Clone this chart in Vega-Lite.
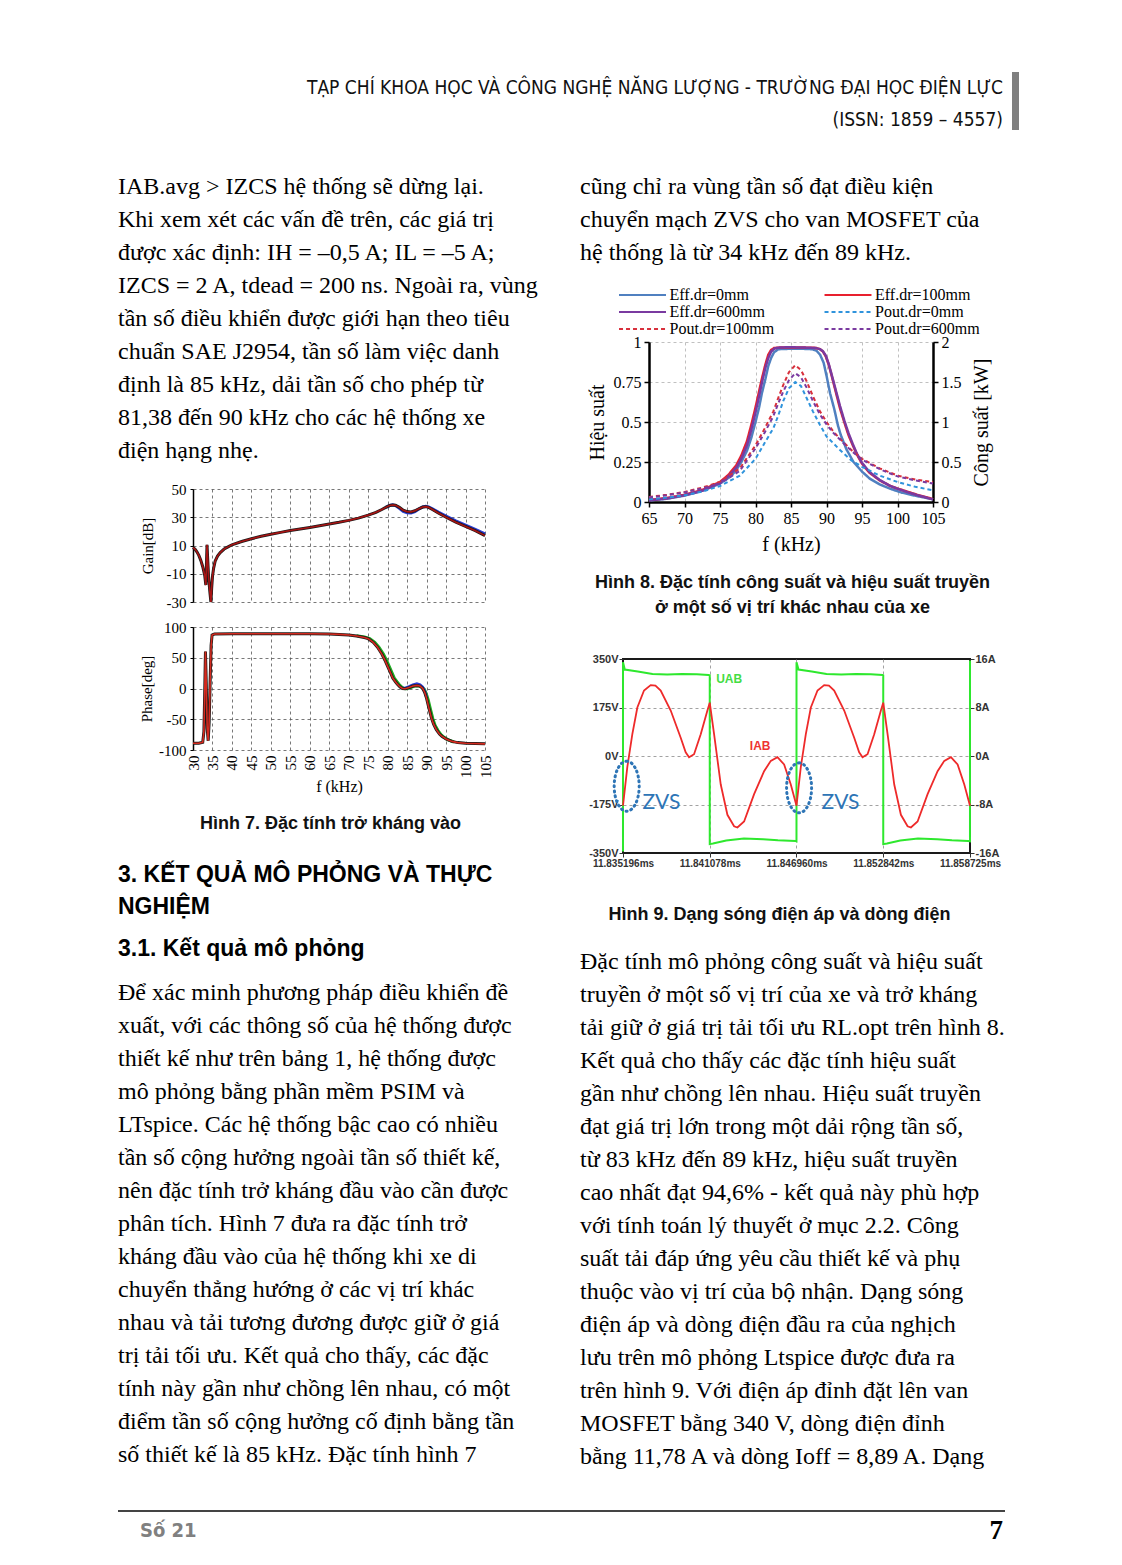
{
"$schema": "https://vega.github.io/schema/vega-lite/v6.json",
"padding": 0,
"autosize": {"type": "pad"},
"background": "#ffffff",
"spacing": 0,
"config": {
  "view": {"stroke": null},
  "axis": {"labelFlush": false, "labelOverlap": false, "gridDash": [3, 3], "gridColor": "#555555", "gridWidth": 0.8, "domainColor": "#000000", "tickColor": "#000000", "labelColor": "#000000", "titleColor": "#000000", "labelFont": "Liberation Serif", "titleFont": "Liberation Serif", "titleFontWeight": "normal"}
},
"datasets": {
  "gain_base": [{"f":30,"g":8.5},{"f":30.5,"g":7.5},{"f":31,"g":5.5},{"f":31.5,"g":3},{"f":32,"g":-0.5},{"f":32.5,"g":-5},{"f":33,"g":-11},{"f":33.3,"g":-18},{"f":33.45,"g":-4},{"f":33.6,"g":10.5},{"f":33.8,"g":-1},{"f":34,"g":-12},{"f":34.3,"g":-22},{"f":34.6,"g":-30},{"f":34.8,"g":-20},{"f":35,"g":-12},{"f":35.3,"g":-6},{"f":35.7,"g":-1},{"f":36.3,"g":2.5},{"f":37,"g":5},{"f":38,"g":7.5},{"f":39,"g":9},{"f":40,"g":10.5},{"f":42.5,"g":12.8},{"f":45,"g":14.8},{"f":47.5,"g":16.5},{"f":50,"g":18},{"f":52.5,"g":19.3},{"f":55,"g":20.6},{"f":57.5,"g":21.7},{"f":60,"g":22.8},{"f":62.5,"g":24},{"f":65,"g":25.2},{"f":67.5,"g":26.4},{"f":70,"g":27.8},{"f":72.5,"g":29.4},{"f":75,"g":31.5},{"f":77,"g":33.5},{"f":78.5,"g":35.5},{"f":79.5,"g":37},{"f":80.5,"g":38.3},{"f":81.3,"g":38.7},{"f":82,"g":38.5},{"f":83,"g":37},{"f":84,"g":35},{"f":85,"g":34},{"f":86,"g":33.8},{"f":87,"g":34.6},{"f":88,"g":36},{"f":89,"g":37.2},{"f":89.8,"g":37.5},{"f":90.5,"g":37},{"f":91.5,"g":35.5},{"f":93,"g":33},{"f":95,"g":30},{"f":97.5,"g":26.5},{"f":100,"g":23.5},{"f":102.5,"g":20.5},{"f":105,"g":17}],
  "gain_blue": [{"f":79.5,"g":37},{"f":80.5,"g":38.3},{"f":81.3,"g":38.8},{"f":82,"g":38.3},{"f":83,"g":36.4},{"f":84,"g":34.2},{"f":85,"g":33.1},{"f":86,"g":33},{"f":87,"g":34},{"f":88,"g":35.8},{"f":89,"g":37.3},{"f":89.8,"g":37.7},{"f":90.5,"g":37.3},{"f":91.5,"g":36},{"f":93,"g":33.6},{"f":95,"g":30.8},{"f":97.5,"g":27.4},{"f":100,"g":24.4},{"f":102.5,"g":21.4},{"f":105,"g":18.2}],
  "phase_base": [{"f":30,"p":-89},{"f":31.5,"p":-89},{"f":32.5,"p":-87.5},{"f":32.8,"p":-70},{"f":33,"p":-10},{"f":33.2,"p":60},{"f":33.4,"p":10},{"f":33.65,"p":-65},{"f":33.9,"p":-85},{"f":34.15,"p":-55},{"f":34.4,"p":10},{"f":34.65,"p":70},{"f":34.9,"p":87},{"f":35.5,"p":88.5},{"f":40,"p":89},{"f":50,"p":89},{"f":60,"p":89},{"f":65,"p":88.5},{"f":67.5,"p":88},{"f":70,"p":87},{"f":72,"p":85.5},{"f":74,"p":83},{"f":75,"p":81},{"f":76.3,"p":75},{"f":77.4,"p":67},{"f":78.5,"p":56},{"f":79.3,"p":46},{"f":80,"p":36},{"f":80.7,"p":26},{"f":81.3,"p":17},{"f":82,"p":11},{"f":82.5,"p":7},{"f":83.2,"p":2.5},{"f":83.8,"p":0},{"f":84.5,"p":-0.5},{"f":85.5,"p":1.5},{"f":86.5,"p":4},{"f":87.5,"p":5},{"f":88.3,"p":4},{"f":89,"p":0},{"f":89.5,"p":-6},{"f":90,"p":-16},{"f":90.6,"p":-32},{"f":91.2,"p":-47},{"f":91.8,"p":-58},{"f":92.5,"p":-67},{"f":93.3,"p":-74},{"f":94,"p":-78},{"f":95,"p":-82},{"f":96.5,"p":-86},{"f":98,"p":-88},{"f":100,"p":-89},{"f":105,"p":-90}],
  "phase_green": [{"f":72,"p":86},{"f":74,"p":84},{"f":75.4,"p":81},{"f":76.7,"p":75},{"f":77.8,"p":67},{"f":78.9,"p":56},{"f":79.7,"p":46},{"f":80.4,"p":36},{"f":81.1,"p":26},{"f":81.7,"p":17},{"f":82.4,"p":11},{"f":82.9,"p":7},{"f":83.6,"p":2.5},{"f":84.2,"p":0},{"f":84.9,"p":-0.5},{"f":85.9,"p":1.5},{"f":86.9,"p":4},{"f":87.8,"p":4.5},{"f":88.6,"p":3},{"f":89.4,"p":-1},{"f":89.9,"p":-8},{"f":90.4,"p":-18},{"f":91,"p":-34},{"f":91.6,"p":-49},{"f":92.2,"p":-60},{"f":92.9,"p":-68},{"f":93.7,"p":-75},{"f":94.4,"p":-79},{"f":95.4,"p":-83},{"f":97,"p":-87}],
  "phase_blue": [{"f":83.8,"p":0.5},{"f":84.5,"p":0.5},{"f":85.5,"p":3},{"f":86.5,"p":6},{"f":87.5,"p":7.5},{"f":88.3,"p":6},{"f":89,"p":2},{"f":89.5,"p":-4},{"f":90,"p":-14}],
  "eff": [
    {"s":"Eff.dr=0mm","f":65,"v":0.01},{"s":"Eff.dr=0mm","f":67.5,"v":0.02},{"s":"Eff.dr=0mm","f":70,"v":0.04},{"s":"Eff.dr=0mm","f":72.5,"v":0.07},{"s":"Eff.dr=0mm","f":75,"v":0.115},{"s":"Eff.dr=0mm","f":76.5,"v":0.16},{"s":"Eff.dr=0mm","f":77.3,"v":0.2},{"s":"Eff.dr=0mm","f":78,"v":0.25},{"s":"Eff.dr=0mm","f":78.8,"v":0.32},{"s":"Eff.dr=0mm","f":79.4,"v":0.4},{"s":"Eff.dr=0mm","f":80,"v":0.5},{"s":"Eff.dr=0mm","f":80.5,"v":0.59},{"s":"Eff.dr=0mm","f":80.9,"v":0.68},{"s":"Eff.dr=0mm","f":81.4,"v":0.77},{"s":"Eff.dr=0mm","f":81.8,"v":0.85},{"s":"Eff.dr=0mm","f":82.2,"v":0.9},{"s":"Eff.dr=0mm","f":82.6,"v":0.935},{"s":"Eff.dr=0mm","f":83.2,"v":0.955},{"s":"Eff.dr=0mm","f":85,"v":0.958},{"s":"Eff.dr=0mm","f":87,"v":0.957},{"s":"Eff.dr=0mm","f":88,"v":0.955},{"s":"Eff.dr=0mm","f":88.6,"v":0.945},{"s":"Eff.dr=0mm","f":89.1,"v":0.92},{"s":"Eff.dr=0mm","f":89.6,"v":0.87},{"s":"Eff.dr=0mm","f":90,"v":0.79},{"s":"Eff.dr=0mm","f":90.5,"v":0.68},{"s":"Eff.dr=0mm","f":91.1,"v":0.58},{"s":"Eff.dr=0mm","f":91.6,"v":0.48},{"s":"Eff.dr=0mm","f":92,"v":0.42},{"s":"Eff.dr=0mm","f":92.8,"v":0.33},{"s":"Eff.dr=0mm","f":93.8,"v":0.25},{"s":"Eff.dr=0mm","f":95,"v":0.19},{"s":"Eff.dr=0mm","f":96.1,"v":0.146},{"s":"Eff.dr=0mm","f":97.5,"v":0.11},{"s":"Eff.dr=0mm","f":98.9,"v":0.084},{"s":"Eff.dr=0mm","f":100.5,"v":0.06},{"s":"Eff.dr=0mm","f":102.2,"v":0.042},{"s":"Eff.dr=0mm","f":105,"v":0.017},
    {"s":"Eff.dr=100mm","f":65,"v":0.012},{"s":"Eff.dr=100mm","f":67.5,"v":0.025},{"s":"Eff.dr=100mm","f":70,"v":0.045},{"s":"Eff.dr=100mm","f":72.5,"v":0.075},{"s":"Eff.dr=100mm","f":75,"v":0.125},{"s":"Eff.dr=100mm","f":76.2,"v":0.17},{"s":"Eff.dr=100mm","f":77.3,"v":0.23},{"s":"Eff.dr=100mm","f":78,"v":0.29},{"s":"Eff.dr=100mm","f":78.8,"v":0.38},{"s":"Eff.dr=100mm","f":79.4,"v":0.48},{"s":"Eff.dr=100mm","f":80,"v":0.59},{"s":"Eff.dr=100mm","f":80.5,"v":0.69},{"s":"Eff.dr=100mm","f":80.9,"v":0.77},{"s":"Eff.dr=100mm","f":81.4,"v":0.86},{"s":"Eff.dr=100mm","f":81.8,"v":0.92},{"s":"Eff.dr=100mm","f":82.2,"v":0.95},{"s":"Eff.dr=100mm","f":82.6,"v":0.962},{"s":"Eff.dr=100mm","f":83.5,"v":0.966},{"s":"Eff.dr=100mm","f":85,"v":0.966},{"s":"Eff.dr=100mm","f":87,"v":0.965},{"s":"Eff.dr=100mm","f":88.5,"v":0.963},{"s":"Eff.dr=100mm","f":89.1,"v":0.955},{"s":"Eff.dr=100mm","f":89.5,"v":0.94},{"s":"Eff.dr=100mm","f":89.9,"v":0.91},{"s":"Eff.dr=100mm","f":90.3,"v":0.86},{"s":"Eff.dr=100mm","f":90.7,"v":0.795},{"s":"Eff.dr=100mm","f":91.3,"v":0.69},{"s":"Eff.dr=100mm","f":91.9,"v":0.586},{"s":"Eff.dr=100mm","f":92.5,"v":0.5},{"s":"Eff.dr=100mm","f":93.1,"v":0.418},{"s":"Eff.dr=100mm","f":93.7,"v":0.355},{"s":"Eff.dr=100mm","f":94.25,"v":0.3},{"s":"Eff.dr=100mm","f":95,"v":0.24},{"s":"Eff.dr=100mm","f":96,"v":0.185},{"s":"Eff.dr=100mm","f":97.5,"v":0.135},{"s":"Eff.dr=100mm","f":99,"v":0.1},{"s":"Eff.dr=100mm","f":100,"v":0.084},{"s":"Eff.dr=100mm","f":101.5,"v":0.063},{"s":"Eff.dr=100mm","f":102.7,"v":0.046},{"s":"Eff.dr=100mm","f":104,"v":0.03},{"s":"Eff.dr=100mm","f":105,"v":0.018},
    {"s":"Eff.dr=600mm","f":65,"v":0.01},{"s":"Eff.dr=600mm","f":67.5,"v":0.022},{"s":"Eff.dr=600mm","f":70,"v":0.042},{"s":"Eff.dr=600mm","f":72.5,"v":0.07},{"s":"Eff.dr=600mm","f":75,"v":0.12},{"s":"Eff.dr=600mm","f":76.2,"v":0.16},{"s":"Eff.dr=600mm","f":77.3,"v":0.215},{"s":"Eff.dr=600mm","f":78,"v":0.27},{"s":"Eff.dr=600mm","f":78.8,"v":0.355},{"s":"Eff.dr=600mm","f":79.4,"v":0.45},{"s":"Eff.dr=600mm","f":80,"v":0.56},{"s":"Eff.dr=600mm","f":80.5,"v":0.66},{"s":"Eff.dr=600mm","f":80.9,"v":0.745},{"s":"Eff.dr=600mm","f":81.4,"v":0.84},{"s":"Eff.dr=600mm","f":81.8,"v":0.9},{"s":"Eff.dr=600mm","f":82.2,"v":0.94},{"s":"Eff.dr=600mm","f":82.7,"v":0.96},{"s":"Eff.dr=600mm","f":83.5,"v":0.966},{"s":"Eff.dr=600mm","f":85,"v":0.967},{"s":"Eff.dr=600mm","f":87,"v":0.965},{"s":"Eff.dr=600mm","f":88.5,"v":0.962},{"s":"Eff.dr=600mm","f":89.1,"v":0.955},{"s":"Eff.dr=600mm","f":89.5,"v":0.942},{"s":"Eff.dr=600mm","f":89.9,"v":0.915},{"s":"Eff.dr=600mm","f":90.3,"v":0.865},{"s":"Eff.dr=600mm","f":90.7,"v":0.8},{"s":"Eff.dr=600mm","f":91.3,"v":0.7},{"s":"Eff.dr=600mm","f":91.9,"v":0.6},{"s":"Eff.dr=600mm","f":92.5,"v":0.51},{"s":"Eff.dr=600mm","f":93.1,"v":0.43},{"s":"Eff.dr=600mm","f":93.7,"v":0.362},{"s":"Eff.dr=600mm","f":94.25,"v":0.305},{"s":"Eff.dr=600mm","f":95,"v":0.245},{"s":"Eff.dr=600mm","f":96,"v":0.19},{"s":"Eff.dr=600mm","f":97.5,"v":0.137},{"s":"Eff.dr=600mm","f":99,"v":0.1},{"s":"Eff.dr=600mm","f":100,"v":0.083},{"s":"Eff.dr=600mm","f":101.5,"v":0.06},{"s":"Eff.dr=600mm","f":102.7,"v":0.044},{"s":"Eff.dr=600mm","f":104,"v":0.028},{"s":"Eff.dr=600mm","f":105,"v":0.016}
  ],
  "pout": [
    {"s":"Pout.dr=0mm","f":65,"p":0.033},{"s":"Pout.dr=0mm","f":67.5,"p":0.055},{"s":"Pout.dr=0mm","f":70,"p":0.084},{"s":"Pout.dr=0mm","f":72.5,"p":0.13},{"s":"Pout.dr=0mm","f":75,"p":0.2},{"s":"Pout.dr=0mm","f":77.8,"p":0.33},{"s":"Pout.dr=0mm","f":80,"p":0.54},{"s":"Pout.dr=0mm","f":81.3,"p":0.74},{"s":"Pout.dr=0mm","f":82.5,"p":0.92},{"s":"Pout.dr=0mm","f":83.2,"p":1.08},{"s":"Pout.dr=0mm","f":83.9,"p":1.26},{"s":"Pout.dr=0mm","f":84.7,"p":1.42},{"s":"Pout.dr=0mm","f":85.6,"p":1.5},{"s":"Pout.dr=0mm","f":86.4,"p":1.45},{"s":"Pout.dr=0mm","f":87.2,"p":1.3},{"s":"Pout.dr=0mm","f":88.1,"p":1.13},{"s":"Pout.dr=0mm","f":89.1,"p":0.96},{"s":"Pout.dr=0mm","f":90,"p":0.82},{"s":"Pout.dr=0mm","f":91.9,"p":0.65},{"s":"Pout.dr=0mm","f":93.5,"p":0.52},{"s":"Pout.dr=0mm","f":95,"p":0.44},{"s":"Pout.dr=0mm","f":97.5,"p":0.33},{"s":"Pout.dr=0mm","f":100,"p":0.25},{"s":"Pout.dr=0mm","f":102.5,"p":0.19},{"s":"Pout.dr=0mm","f":105,"p":0.146},
    {"s":"Pout.dr=100mm","f":65,"p":0.063},{"s":"Pout.dr=100mm","f":67.5,"p":0.09},{"s":"Pout.dr=100mm","f":70,"p":0.125},{"s":"Pout.dr=100mm","f":72.5,"p":0.18},{"s":"Pout.dr=100mm","f":75,"p":0.25},{"s":"Pout.dr=100mm","f":77.8,"p":0.42},{"s":"Pout.dr=100mm","f":80,"p":0.71},{"s":"Pout.dr=100mm","f":81.3,"p":0.92},{"s":"Pout.dr=100mm","f":82.5,"p":1.13},{"s":"Pout.dr=100mm","f":83.2,"p":1.3},{"s":"Pout.dr=100mm","f":83.9,"p":1.46},{"s":"Pout.dr=100mm","f":84.7,"p":1.62},{"s":"Pout.dr=100mm","f":85.6,"p":1.71},{"s":"Pout.dr=100mm","f":86.4,"p":1.65},{"s":"Pout.dr=100mm","f":87.2,"p":1.51},{"s":"Pout.dr=100mm","f":88.1,"p":1.32},{"s":"Pout.dr=100mm","f":89.1,"p":1.13},{"s":"Pout.dr=100mm","f":90,"p":1.0},{"s":"Pout.dr=100mm","f":90.9,"p":0.89},{"s":"Pout.dr=100mm","f":91.9,"p":0.79},{"s":"Pout.dr=100mm","f":93.5,"p":0.65},{"s":"Pout.dr=100mm","f":95,"p":0.54},{"s":"Pout.dr=100mm","f":97.5,"p":0.42},{"s":"Pout.dr=100mm","f":100,"p":0.33},{"s":"Pout.dr=100mm","f":102.5,"p":0.28},{"s":"Pout.dr=100mm","f":105,"p":0.25},
    {"s":"Pout.dr=600mm","f":65,"p":0.055},{"s":"Pout.dr=600mm","f":67.5,"p":0.085},{"s":"Pout.dr=600mm","f":70,"p":0.12},{"s":"Pout.dr=600mm","f":72.5,"p":0.17},{"s":"Pout.dr=600mm","f":75,"p":0.23},{"s":"Pout.dr=600mm","f":77.8,"p":0.39},{"s":"Pout.dr=600mm","f":80,"p":0.67},{"s":"Pout.dr=600mm","f":81.3,"p":0.87},{"s":"Pout.dr=600mm","f":82.5,"p":1.07},{"s":"Pout.dr=600mm","f":83.2,"p":1.23},{"s":"Pout.dr=600mm","f":83.9,"p":1.38},{"s":"Pout.dr=600mm","f":84.7,"p":1.52},{"s":"Pout.dr=600mm","f":85.6,"p":1.61},{"s":"Pout.dr=600mm","f":86.4,"p":1.56},{"s":"Pout.dr=600mm","f":87.2,"p":1.43},{"s":"Pout.dr=600mm","f":88.1,"p":1.26},{"s":"Pout.dr=600mm","f":89.1,"p":1.09},{"s":"Pout.dr=600mm","f":90,"p":0.97},{"s":"Pout.dr=600mm","f":90.9,"p":0.87},{"s":"Pout.dr=600mm","f":91.9,"p":0.78},{"s":"Pout.dr=600mm","f":93.5,"p":0.64},{"s":"Pout.dr=600mm","f":95,"p":0.53},{"s":"Pout.dr=600mm","f":97.5,"p":0.41},{"s":"Pout.dr=600mm","f":100,"p":0.32},{"s":"Pout.dr=600mm","f":102.5,"p":0.27},{"s":"Pout.dr=600mm","f":105,"p":0.23}
  ],
  "uab": [{"t":0,"V":-345},{"t":0.001,"V":338},{"t":0.12,"V":312},{"t":1,"V":305},{"t":2,"V":296},{"t":3,"V":294},{"t":4,"V":296},{"t":5,"V":295},{"t":5.8,"V":292},{"t":5.882,"V":291},{"t":5.883,"V":-318},{"t":6.1,"V":-316},{"t":7,"V":-305},{"t":8.2,"V":-298},{"t":9.5,"V":-300},{"t":10.5,"V":-304},{"t":11.7,"V":-307},{"t":11.764,"V":-308},{"t":11.765,"V":338},{"t":11.9,"V":312},{"t":12.8,"V":305},{"t":13.8,"V":296},{"t":14.8,"V":294},{"t":15.8,"V":296},{"t":16.8,"V":295},{"t":17.6,"V":292},{"t":17.646,"V":291},{"t":17.647,"V":-318},{"t":17.9,"V":-316},{"t":18.8,"V":-305},{"t":20,"V":-298},{"t":21.3,"V":-300},{"t":22.3,"V":-304},{"t":23.4,"V":-307},{"t":23.528,"V":-308},{"t":23.529,"V":345}],
  "iab": [{"t":0,"A":-8.2},{"t":0.294,"A":-1.8},{"t":0.633,"A":3.6},{"t":0.973,"A":8.0},{"t":1.425,"A":10.8},{"t":1.877,"A":11.7},{"t":2.2,"A":11.6},{"t":2.556,"A":10.8},{"t":3.235,"A":7.5},{"t":3.913,"A":3.0},{"t":4.25,"A":0.6},{"t":4.479,"A":-0.2},{"t":4.818,"A":0.3},{"t":5.27,"A":3.6},{"t":5.723,"A":7.5},{"t":5.882,"A":8.8},{"t":6.176,"A":3.6},{"t":6.628,"A":-4.7},{"t":7.08,"A":-9.7},{"t":7.533,"A":-11.6},{"t":7.759,"A":-11.8},{"t":8.211,"A":-10.8},{"t":8.89,"A":-6.3},{"t":9.568,"A":-2.5},{"t":10.021,"A":-0.8},{"t":10.473,"A":-0.2},{"t":10.925,"A":-1.4},{"t":11.378,"A":-4.7},{"t":11.764,"A":-8.2},{"t":12.058,"A":-1.8},{"t":12.397,"A":3.6},{"t":12.737,"A":8.0},{"t":13.189,"A":10.8},{"t":13.641,"A":11.7},{"t":13.964,"A":11.6},{"t":14.32,"A":10.8},{"t":14.999,"A":7.5},{"t":15.677,"A":3.0},{"t":16.014,"A":0.6},{"t":16.243,"A":-0.2},{"t":16.582,"A":0.3},{"t":17.034,"A":3.6},{"t":17.487,"A":7.5},{"t":17.646,"A":8.8},{"t":17.94,"A":3.6},{"t":18.392,"A":-4.7},{"t":18.844,"A":-9.7},{"t":19.297,"A":-11.6},{"t":19.523,"A":-11.8},{"t":19.975,"A":-10.8},{"t":20.654,"A":-6.3},{"t":21.332,"A":-2.5},{"t":21.785,"A":-0.8},{"t":22.237,"A":-0.2},{"t":22.689,"A":-1.4},{"t":23.142,"A":-4.7},{"t":23.529,"A":-8.2}],
  "ann": [{"t":7.2,"V":279,"label":"UAB"},{"t":9.3,"V":36,"label":"IAB"},{"t":1.32,"V":-169,"label":"ZVS"},{"t":13.46,"V":-169,"label":"ZVS"}],
  "ell": [{"t":0.25,"V":-109},{"t":11.94,"V":-115}]
},
"vconcat": [
  {"width": 1, "height": 72, "data": {"values": []}, "mark": "text"},
  {"hconcat": [
    {"width": 1003, "height": 64, "data": {"values": [{"i": 0, "t": "TẠP CHÍ KHOA HỌC VÀ CÔNG NGHỆ NĂNG LƯỢNG - TRƯỜNG ĐẠI HỌC ĐIỆN LỰC"}, {"i": 1, "t": "(ISSN: 1859 – 4557)"}]},
     "mark": {"type": "text", "align": "right", "baseline": "middle", "font": "Liberation Sans Narrow, DejaVu Sans Condensed, sans-serif", "fontSize": 19, "color": "#111111"},
     "encoding": {"y": {"field": "i", "type": "ordinal", "scale": {"type": "point", "padding": 0.5}, "axis": null}, "text": {"field": "t", "type": "nominal"}, "x": {"value": "width"}}},
    {"width": 9, "height": 1, "data": {"values": []}, "mark": "text"},
    {"width": 7, "height": 58, "view": {"fill": "#7f7f7f", "stroke": null}, "data": {"values": []}, "mark": "text"}
  ], "spacing": 0},
  {"width": 1, "height": 34, "data": {"values": []}, "mark": "text"},
  {"hconcat": [
    {"width": 118, "height": 1, "data": {"values": []}, "mark": "text"},
    {"vconcat": [
      {"width": 425, "height": 297, "data": {"values": [{"i":0,"t":"IAB.avg > IZCS hệ thống sẽ dừng lại."},{"i":1,"t":"Khi xem xét các vấn đề trên, các giá trị"},{"i":2,"t":"được xác định: IH = –0,5 A; IL = –5 A;"},{"i":3,"t":"IZCS = 2 A, tdead = 200 ns. Ngoài ra, vùng"},{"i":4,"t":"tần số điều khiển được giới hạn theo tiêu"},{"i":5,"t":"chuẩn SAE J2954, tần số làm việc danh"},{"i":6,"t":"định là 85 kHz, dải tần số cho phép từ"},{"i":7,"t":"81,38 đến 90 kHz cho các hệ thống xe"},{"i":8,"t":"điện hạng nhẹ."}]},
       "mark": {"type": "text", "align": "left", "baseline": "middle", "font": "Liberation Serif", "fontSize": 24, "color": "#000000"},
       "encoding": {"y": {"field": "i", "type": "ordinal", "scale": {"type": "point", "padding": 0.5}, "axis": null}, "text": {"field": "t", "type": "nominal"}, "x": {"value": 0}}},
      {"width": 1, "height": 15, "data": {"values": []}, "mark": "text"},
      {"hconcat": [
        {"width": 22, "height": 1, "data": {"values": []}, "mark": "text"},
        {"width": 292, "height": 113,
         "encoding": {
           "x": {"field": "f", "type": "quantitative", "scale": {"domain": [30, 105], "nice": false, "zero": false},
                 "axis": {"values": [30,35,40,45,50,55,60,65,70,75,80,85,90,95,100,105], "labels": false, "ticks": false, "domain": false, "title": null, "grid": true}},
           "y": {"field": "g", "type": "quantitative", "scale": {"domain": [-30, 50], "nice": false, "zero": false},
                 "axis": {"values": [-30,-10,10,30,50], "labelExpr": "datum.value + ''", "grid": true, "domainWidth": 1.5, "tickSize": 3, "labelPadding": 4, "labelFontSize": 15, "minExtent": 28, "maxExtent": 28, "title": "Gain[dB]", "titleFontSize": 15, "titlePadding": 10}}
         },
         "layer": [
           {"data": {"name": "gain_blue"}, "mark": {"type": "line", "color": "#2b3bd6", "strokeWidth": 3}},
           {"data": {"name": "gain_base"}, "mark": {"type": "line", "color": "#1a1a1a", "strokeWidth": 3}},
           {"data": {"name": "gain_base"}, "mark": {"type": "line", "color": "#a81414", "strokeWidth": 1.6}}
         ]}
      ], "spacing": 0},
      {"width": 1, "height": 10, "data": {"values": []}, "mark": "text"},
      {"hconcat": [
        {"width": 21, "height": 1, "data": {"values": []}, "mark": "text"},
        {"width": 292, "height": 123,
         "encoding": {
           "x": {"field": "f", "type": "quantitative", "scale": {"domain": [30, 105], "nice": false, "zero": false},
                 "axis": {"values": [30,35,40,45,50,55,60,65,70,75,80,85,90,95,100,105], "labelAngle": 270, "labelFontSize": 15, "labelPadding": 5, "ticks": false, "domain": false, "grid": true, "minExtent": 28, "maxExtent": 28, "title": "f (kHz)", "titleFontSize": 16, "titlePadding": 0}},
           "y": {"field": "p", "type": "quantitative", "scale": {"domain": [-100, 100], "nice": false, "zero": false},
                 "axis": {"values": [-100,-50,0,50,100], "labelExpr": "datum.value + ''", "grid": true, "domainWidth": 1.5, "tickSize": 3, "labelPadding": 4, "labelFontSize": 15, "minExtent": 35, "maxExtent": 35, "title": "Phase[deg]", "titleFontSize": 15, "titlePadding": 3.5}}
         },
         "layer": [
           {"data": {"name": "phase_green"}, "mark": {"type": "line", "color": "#1faa1f", "strokeWidth": 3}},
           {"data": {"name": "phase_blue"}, "mark": {"type": "line", "color": "#2b3bd6", "strokeWidth": 3}},
           {"data": {"name": "phase_base"}, "mark": {"type": "line", "color": "#1a1a1a", "strokeWidth": 3}},
           {"data": {"name": "phase_base"}, "mark": {"type": "line", "color": "#d42a1e", "strokeWidth": 1.6}}
         ]}
      ], "spacing": 0},
      {"width": 1, "height": 15, "data": {"values": []}, "mark": "text"},
      {"width": 425, "height": 30, "data": {"values": [{"t": "Hình 7. Đặc tính trở kháng vào"}]},
       "mark": {"type": "text", "align": "center", "baseline": "middle", "font": "Liberation Sans", "fontWeight": "bold", "fontSize": 18, "color": "#111111"},
       "encoding": {"text": {"field": "t", "type": "nominal"}}},
      {"width": 1, "height": 20, "data": {"values": []}, "mark": "text"},
      {"width": 425, "height": 64, "data": {"values": [{"i": 0, "t": "3. KẾT QUẢ MÔ PHỎNG VÀ THỰC"}, {"i": 1, "t": "NGHIỆM"}]},
       "mark": {"type": "text", "align": "left", "baseline": "middle", "font": "Liberation Sans", "fontWeight": "bold", "fontSize": 23, "color": "#000000"},
       "encoding": {"y": {"field": "i", "type": "ordinal", "scale": {"type": "point", "padding": 0.5}, "axis": null}, "text": {"field": "t", "type": "nominal"}, "x": {"value": 0}}},
      {"width": 1, "height": 8, "data": {"values": []}, "mark": "text"},
      {"width": 425, "height": 36, "data": {"values": [{"t": "3.1. Kết quả mô phỏng"}]},
       "mark": {"type": "text", "align": "left", "baseline": "middle", "font": "Liberation Sans", "fontWeight": "bold", "fontSize": 23, "color": "#000000"},
       "encoding": {"text": {"field": "t", "type": "nominal"}, "x": {"value": 0}}},
      {"width": 1, "height": 9, "data": {"values": []}, "mark": "text"},
      {"width": 425, "height": 495, "data": {"values": [{"i":0,"t":"Để xác minh phương pháp điều khiển đề"},{"i":1,"t":"xuất, với các thông số của hệ thống được"},{"i":2,"t":"thiết kế như trên bảng 1, hệ thống được"},{"i":3,"t":"mô phỏng bằng phần mềm PSIM và"},{"i":4,"t":"LTspice. Các hệ thống bậc cao có nhiều"},{"i":5,"t":"tần số cộng hưởng ngoài tần số thiết kế,"},{"i":6,"t":"nên đặc tính trở kháng đầu vào cần được"},{"i":7,"t":"phân tích. Hình 7 đưa ra đặc tính trở"},{"i":8,"t":"kháng đầu vào của hệ thống khi xe di"},{"i":9,"t":"chuyển thẳng hướng ở các vị trí khác"},{"i":10,"t":"nhau và tải tương đương được giữ ở giá"},{"i":11,"t":"trị tải tối ưu. Kết quả cho thấy, các đặc"},{"i":12,"t":"tính này gần như chồng lên nhau, có một"},{"i":13,"t":"điểm tần số cộng hưởng cố định bằng tần"},{"i":14,"t":"số thiết kế là 85 kHz. Đặc tính hình 7"}]},
       "mark": {"type": "text", "align": "left", "baseline": "middle", "font": "Liberation Serif", "fontSize": 24, "color": "#000000"},
       "encoding": {"y": {"field": "i", "type": "ordinal", "scale": {"type": "point", "padding": 0.5}, "axis": null}, "text": {"field": "t", "type": "nominal"}, "x": {"value": 0}}}
    ], "spacing": 0},
    {"width": 37, "height": 1, "data": {"values": []}, "mark": "text"},
    {"vconcat": [
      {"width": 425, "height": 99, "data": {"values": [{"i":0,"t":"cũng chỉ ra vùng tần số đạt điều kiện"},{"i":1,"t":"chuyển mạch ZVS cho van MOSFET của"},{"i":2,"t":"hệ thống là từ 34 kHz đến 89 kHz."}]},
       "mark": {"type": "text", "align": "left", "baseline": "middle", "font": "Liberation Serif", "fontSize": 24, "color": "#000000"},
       "encoding": {"y": {"field": "i", "type": "ordinal", "scale": {"type": "point", "padding": 0.5}, "axis": null}, "text": {"field": "t", "type": "nominal"}, "x": {"value": 0}}},
      {"width": 1, "height": 17, "data": {"values": []}, "mark": "text"},
      {"hconcat": [
        {"width": 7, "height": 1, "data": {"values": []}, "mark": "text"},
        {"width": 284, "height": 160,
         "encoding": {
           "x": {"field": "f", "type": "quantitative", "scale": {"domain": [65, 105], "nice": false, "zero": false},
                 "axis": {"values": [65,70,75,80,85,90,95,100,105], "grid": true, "gridColor": "#b0b0b0", "domainWidth": 2.5, "tickWidth": 1.5, "tickSize": 5, "labelFontSize": 16, "labelPadding": 3, "minExtent": 24, "maxExtent": 24, "title": "f (kHz)", "titleFontSize": 20, "titlePadding": 8}}
         },
         "layer": [
           {"data": {"name": "eff"}, "mark": {"type": "line", "strokeWidth": 2.5},
            "encoding": {
              "y": {"field": "v", "type": "quantitative", "scale": {"domain": [0, 1], "nice": false, "zero": false},
                    "axis": {"values": [0,0.25,0.5,0.75,1], "labelExpr": "datum.value + ''", "grid": true, "gridColor": "#b0b0b0", "domainWidth": 2.5, "tickWidth": 1.5, "tickSize": 5, "labelFontSize": 16, "labelPadding": 3, "minExtent": 38, "maxExtent": 38, "title": "Hiệu suất", "titleFontSize": 20, "titlePadding": 4}},
              "color": {"field": "s", "type": "nominal", "scale": {"domain": ["Eff.dr=0mm","Eff.dr=600mm","Pout.dr=100mm","Eff.dr=100mm","Pout.dr=0mm","Pout.dr=600mm"], "range": ["#5080c0","#7a3aa0","#d8303c","#e8202e","#2f93dc","#7a3aa0"]},
                        "legend": {"title": null, "orient": "none", "legendX": -15.5, "legendY": -56, "columns": 2, "symbolType": "M-3,0L3,0", "symbolSize": 245, "symbolStrokeWidth": 2, "labelFont": "Liberation Serif", "labelFontSize": 16, "labelColor": "#000000", "labelOffset": 18, "columnPadding": 45.5, "rowPadding": 0, "padding": 0}},
              "strokeDash": {"field": "s", "type": "nominal", "scale": {"domain": ["Eff.dr=0mm","Eff.dr=600mm","Pout.dr=100mm","Eff.dr=100mm","Pout.dr=0mm","Pout.dr=600mm"], "range": [[1,0],[1,0],[4,3],[1,0],[4,3],[4,3]]},
                        "legend": {"title": null, "orient": "none", "legendX": -15.5, "legendY": -56, "columns": 2, "symbolType": "M-3,0L3,0", "symbolSize": 245, "symbolStrokeWidth": 2, "labelFont": "Liberation Serif", "labelFontSize": 16, "labelColor": "#000000", "labelOffset": 18, "columnPadding": 45.5, "rowPadding": 0, "padding": 0}}
            }},
           {"data": {"name": "pout"}, "mark": {"type": "line", "strokeWidth": 2},
            "encoding": {
              "y": {"field": "p", "type": "quantitative", "scale": {"domain": [0, 2], "nice": false, "zero": false},
                    "axis": {"orient": "right", "values": [0,0.5,1,1.5,2], "labelExpr": "datum.value + ''", "grid": false, "domainWidth": 2.5, "tickWidth": 1.5, "tickSize": 5, "labelFontSize": 16, "labelPadding": 3, "minExtent": 30, "maxExtent": 30, "title": "Công suất [kW]", "titleAngle": 270, "titleFontSize": 20, "titlePadding": 28}},
              "color": {"field": "s", "type": "nominal"},
              "strokeDash": {"field": "s", "type": "nominal"}
            }}
         ],
         "resolve": {"scale": {"y": "independent"}}}
      ], "spacing": 0, "resolve": {"scale": {"color": "independent", "strokeDash": "independent"}, "legend": {"color": "independent", "strokeDash": "independent"}}},
      {"width": 1, "height": 16, "data": {"values": []}, "mark": "text"},
      {"width": 425, "height": 50, "data": {"values": [{"i": 0, "t": "Hình 8. Đặc tính công suất và hiệu suất truyền"}, {"i": 1, "t": "ở một số vị trí khác nhau của xe"}]},
       "mark": {"type": "text", "align": "center", "baseline": "middle", "font": "Liberation Sans", "fontWeight": "bold", "fontSize": 18, "color": "#111111"},
       "encoding": {"y": {"field": "i", "type": "ordinal", "scale": {"type": "point", "padding": 0.5}, "axis": null}, "text": {"field": "t", "type": "nominal"}}},
      {"width": 1, "height": 32, "data": {"values": []}, "mark": "text"},
      {"hconcat": [
        {"width": 7, "height": 1, "data": {"values": []}, "mark": "text"},
        {"width": 347, "height": 194,
         "view": {"stroke": "#1a1a1a", "strokeWidth": 2},
         "encoding": {
           "x": {"field": "t", "type": "quantitative", "scale": {"domain": [0, 23.529], "nice": false, "zero": false},
                 "axis": {"values": [0, 5.882, 11.764, 17.646, 23.529], "labelExpr": "format(11.835196 + datum.value / 1000, '.6f') + 'ms'", "grid": true, "gridColor": "#8a8a8a", "gridOpacity": {"condition": {"test": "datum.value < 0.1 || datum.value > 23.4", "value": 0}, "value": 1}, "domain": false, "tickColor": "#333333", "tickSize": 4, "labelFont": "Liberation Sans", "labelFontWeight": "bold", "labelFontSize": 10, "labelColor": "#333333", "labelPadding": 1, "title": null}}
         },
         "layer": [
           {"data": {"name": "uab"}, "mark": {"type": "line", "color": "#2ee82e", "strokeWidth": 2},
            "encoding": {"y": {"field": "V", "type": "quantitative", "scale": {"domain": [-350, 350], "nice": false, "zero": false},
              "axis": {"values": [-350,-175,0,175,350], "labelExpr": "datum.value + 'V'", "grid": true, "gridColor": "#8a8a8a", "gridOpacity": {"condition": {"test": "abs(datum.value) == 350", "value": 0}, "value": 1}, "domain": false, "tickColor": "#333333", "tickSize": 4, "labelFont": "Liberation Sans", "labelFontWeight": "bold", "labelFontSize": 11, "labelColor": "#333333", "labelPadding": 1, "title": null}}}},
           {"data": {"name": "iab"}, "mark": {"type": "line", "color": "#ee2a2a", "strokeWidth": 1.8},
            "encoding": {"y": {"field": "A", "type": "quantitative", "scale": {"domain": [-16, 16], "nice": false, "zero": false},
              "axis": {"orient": "right", "values": [-16,-8,0,8,16], "labelExpr": "datum.value + 'A'", "grid": false, "domain": false, "tickColor": "#333333", "tickSize": 4, "labelFont": "Liberation Sans", "labelFontWeight": "bold", "labelFontSize": 11, "labelColor": "#333333", "labelPadding": 1, "title": null}}}},
           {"encoding": {"y": {"field": "V", "type": "quantitative", "scale": {"domain": [-350, 350], "nice": false, "zero": false}, "axis": null}},
            "layer": [
              {"data": {"name": "ell"}, "mark": {"type": "point", "shape": "M0,-1C0.276,-1 0.5,-0.552 0.5,0C0.5,0.552 0.276,1 0,1C-0.276,1 -0.5,0.552 -0.5,0C-0.5,-0.552 -0.276,-1 0,-1Z", "size": 2500, "filled": false, "stroke": "#2e75b6", "strokeWidth": 3, "strokeDash": [1, 4], "strokeCap": "round", "opacity": 1}},
              {"data": {"name": "ann"}, "transform": [{"filter": "datum.label == 'UAB'"}], "mark": {"type": "text", "font": "Liberation Sans", "fontWeight": "bold", "fontSize": 12, "color": "#44dd44", "align": "center", "baseline": "middle"}, "encoding": {"text": {"field": "label", "type": "nominal"}}},
              {"data": {"name": "ann"}, "transform": [{"filter": "datum.label == 'IAB'"}], "mark": {"type": "text", "font": "Liberation Sans", "fontWeight": "bold", "fontSize": 12, "color": "#ee3333", "align": "center", "baseline": "middle"}, "encoding": {"text": {"field": "label", "type": "nominal"}}},
              {"data": {"name": "ann"}, "transform": [{"filter": "datum.label == 'ZVS'"}], "mark": {"type": "text", "font": "Lato", "fontSize": 21, "color": "#2e75b6", "align": "left", "baseline": "middle"}, "encoding": {"text": {"field": "label", "type": "nominal"}}}
            ]}
         ],
         "resolve": {"scale": {"y": "independent"}}}
      ], "spacing": 0},
      {"width": 1, "height": 31, "data": {"values": []}, "mark": "text"},
      {"hconcat": [
        {"width": 13, "height": 1, "data": {"values": []}, "mark": "text"},
        {"width": 373, "height": 30, "data": {"values": [{"t": "Hình 9. Dạng sóng điện áp và dòng điện"}]},
         "mark": {"type": "text", "align": "center", "baseline": "middle", "font": "Liberation Sans", "fontWeight": "bold", "fontSize": 18, "color": "#111111"},
         "encoding": {"text": {"field": "t", "type": "nominal"}}}
      ], "spacing": 0},
      {"width": 1, "height": 15, "data": {"values": []}, "mark": "text"},
      {"width": 425, "height": 528, "data": {"values": [{"i":0,"t":"Đặc tính mô phỏng công suất và hiệu suất"},{"i":1,"t":"truyền ở một số vị trí của xe và trở kháng"},{"i":2,"t":"tải giữ ở giá trị tải tối ưu RL.opt trên hình 8."},{"i":3,"t":"Kết quả cho thấy các đặc tính hiệu suất"},{"i":4,"t":"gần như chồng lên nhau. Hiệu suất truyền"},{"i":5,"t":"đạt giá trị lớn trong một dải rộng tần số,"},{"i":6,"t":"từ 83 kHz đến 89 kHz, hiệu suất truyền"},{"i":7,"t":"cao nhất đạt 94,6% -  kết quả này phù hợp"},{"i":8,"t":"với tính toán lý thuyết ở mục 2.2. Công"},{"i":9,"t":"suất tải đáp ứng yêu cầu thiết kế và phụ"},{"i":10,"t":"thuộc vào vị trí của bộ nhận. Dạng sóng"},{"i":11,"t":"điện áp và dòng điện đầu ra của nghịch"},{"i":12,"t":"lưu trên mô phỏng Ltspice được đưa ra"},{"i":13,"t":"trên hình 9. Với điện áp đỉnh đặt lên van"},{"i":14,"t":"MOSFET bằng 340 V, dòng điện đỉnh"},{"i":15,"t":"bằng 11,78 A và dòng Ioff = 8,89 A. Dạng"}]},
       "mark": {"type": "text", "align": "left", "baseline": "middle", "font": "Liberation Serif", "fontSize": 24, "color": "#000000"},
       "encoding": {"y": {"field": "i", "type": "ordinal", "scale": {"type": "point", "padding": 0.5}, "axis": null}, "text": {"field": "t", "type": "nominal"}, "x": {"value": 0}}}
    ], "spacing": 0}
  ], "spacing": 0},
  {"width": 1, "height": 37, "data": {"values": []}, "mark": "text"},
  {"hconcat": [
    {"width": 118, "height": 1, "data": {"values": []}, "mark": "text"},
    {"width": 887, "height": 2, "view": {"fill": "#444444", "stroke": null}, "data": {"values": []}, "mark": "text"}
  ], "spacing": 0},
  {"width": 1, "height": 5, "data": {"values": []}, "mark": "text"},
  {"hconcat": [
    {"width": 140, "height": 1, "data": {"values": []}, "mark": "text"},
    {"width": 863, "height": 28, "data": {"values": [{}]},
     "layer": [
       {"mark": {"type": "text", "text": "Số 21", "align": "left", "baseline": "middle", "font": "DejaVu Sans Condensed", "fontWeight": "bold", "fontSize": 20, "color": "#808080"}, "encoding": {"x": {"value": 0}}},
       {"mark": {"type": "text", "text": "7", "align": "right", "baseline": "middle", "font": "Liberation Serif", "fontWeight": "bold", "fontSize": 27, "color": "#000000"}, "encoding": {"x": {"value": "width"}}}
     ]}
  ], "spacing": 0}
]
}
